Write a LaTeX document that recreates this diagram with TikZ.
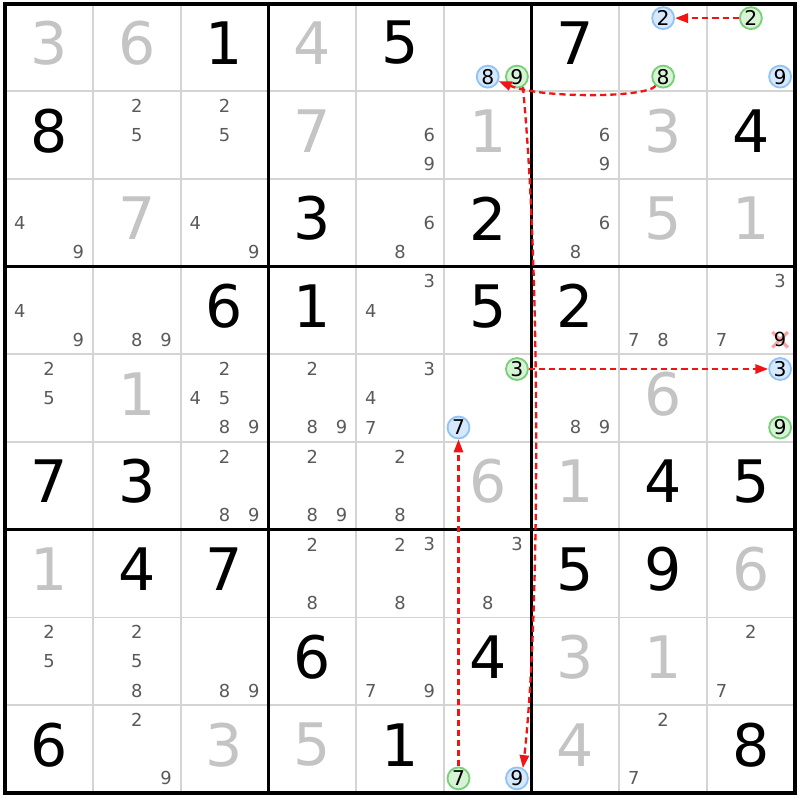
\documentclass[tikz,border=0pt]{standalone}
\usepackage{fontspec}
\setmainfont{DejaVu Sans}
\usetikzlibrary{arrows.meta}
\definecolor{gegeben}{RGB}{196,196,196}
\definecolor{kandgrau}{RGB}{90,90,90}
\definecolor{gitter}{RGB}{212,212,212}
\definecolor{blaufill}{RGB}{214,233,252}
\definecolor{blaurand}{RGB}{145,196,245}
\definecolor{gruenfill}{RGB}{214,243,214}
\definecolor{gruenrand}{RGB}{120,208,120}
\definecolor{pfeilrot}{RGB}{240,20,20}
\tikzset{
  given/.style = {inner sep=0pt, font=\fontsize{19}{19}\selectfont, text=gegeben},
  solved/.style = {inner sep=0pt, font=\fontsize{19}{19}\selectfont, text=black},
  cand/.style = {inner sep=0pt, font=\fontsize{5.8}{6}\selectfont, text=kandgrau},
  candblue/.style = {circle, draw=blaurand, fill=blaufill, line width=0.6pt, minimum size=0.25cm, inner sep=0pt, font=\fontsize{6.6}{7}\selectfont},
  candgreen/.style = {circle, draw=gruenrand, fill=gruenfill, line width=0.6pt, minimum size=0.25cm, inner sep=0pt, font=\fontsize{6.6}{7}\selectfont},
  thinline/.style = {gitter, line width=0.6pt},
  boxline/.style = {black, line width=1pt},
  arrow/.style = {pfeilrot, line width=0.75pt, dash pattern=on 2pt off 1.3pt, -{Triangle[length=4.2pt, width=3pt]}}
}

\begin{document}
\begin{tikzpicture}
  \useasboundingbox (-0.06,0.04) rectangle (9.06,-9.08);
  \fill[white] (-0.06,0.04) rectangle (9.06,-9.08);

  % Gitter
  \foreach \i in {1,2,4,5,7,8} {
    \draw[thinline] (\i,0) -- (\i,-9);
    \draw[thinline] (0,-\i) -- (9,-\i);
  }
  \foreach \i in {3,6} {
    \draw[boxline] (\i,0) -- (\i,-9);
    \draw[boxline] (0,-\i) -- (9,-\i);
  }
  \draw[black, line width=1.3pt] (0,0) rectangle (9,-9);

  % Vorgaben
  \foreach \r/\c/\d in {0/0/3, 0/1/6, 0/3/4, 1/3/7, 1/5/1, 1/7/3, 2/1/7, 2/7/5, 2/8/1,
                        4/1/1, 4/7/6, 5/5/6, 5/6/1, 6/0/1, 6/8/6, 7/6/3, 7/7/1,
                        8/2/3, 8/3/5, 8/6/4}
    \node[given] at (\c+0.5,-\r-0.45) {\d};

  % Geloeste Zellen
  \foreach \r/\c/\d in {0/2/1, 0/4/5, 0/6/7, 1/0/8, 1/8/4, 2/3/3, 2/5/2, 3/2/6, 3/3/1,
                        3/5/5, 3/6/2, 5/0/7, 5/1/3, 5/7/4, 5/8/5, 6/1/4, 6/2/7, 6/6/5,
                        6/7/9, 7/3/6, 7/5/4, 8/0/6, 8/4/1, 8/8/8}
    \node[solved] at (\c+0.5,-\r-0.45) {\d};

  % Kandidaten
  \foreach \r/\c/\ds in {1/1/{2,5}, 1/2/{2,5}, 1/4/{6,9}, 1/6/{6,9},
                         2/0/{4,9}, 2/2/{4,9}, 2/4/{6,8}, 2/6/{6,8},
                         3/0/{4,9}, 3/1/{8,9}, 3/4/{3,4}, 3/7/{7,8}, 3/8/{3,7},
                         4/0/{2,5}, 4/2/{2,4,5,8,9}, 4/3/{2,8,9}, 4/4/{3,4,7}, 4/6/{8,9},
                         5/2/{2,8,9}, 5/3/{2,8,9}, 5/4/{2,8},
                         6/3/{2,8}, 6/4/{2,3,8}, 6/5/{3,8},
                         7/0/{2,5}, 7/1/{2,5,8}, 7/2/{8,9}, 7/4/{7,9}, 7/8/{2,7},
                         8/1/{2,9}, 8/7/{2,7}} {
    \foreach \d in \ds {
      \pgfmathtruncatemacro\spalte{mod(\d-1,3)}
      \pgfmathtruncatemacro\zeile{int((\d-1)/3)}
      \node[cand] at (\c+\spalte/3+1/6,-\r-\zeile/3-1/6) {\d};
    }
  }

  % gestrichener Kandidat
  \draw[pfeilrot!70!white, opacity=0.55, line width=1pt] (8.745,-3.745) -- (8.921,-3.921)
        (8.745,-3.921) -- (8.921,-3.745);
  \node[inner sep=0pt, font=\fontsize{6.3}{7}\selectfont] (x9) at (8+5/6,-3-5/6) {9};

  % markierte Kandidaten
  \node[candblue]  (b8) at (5.5,-5/6) {8};
  \node[candgreen] (g9) at (5+5/6,-5/6) {9};
  \node[candblue]  (b2) at (7.5,-1/6) {2};
  \node[candgreen] (g8) at (7.5,-5/6) {8};
  \node[candgreen] (g2) at (8.5,-1/6) {2};
  \node[candblue]  (r9) at (8+5/6,-5/6) {9};
  \node[candgreen] (g3) at (5+5/6,-4-1/6) {3};
  \node[candblue]  (b7) at (5+1/6,-4-5/6) {7};
  \node[candblue]  (b3) at (8+5/6,-4-1/6) {3};
  \node[candgreen] (s9) at (8+5/6,-4-5/6) {9};
  \node[candgreen] (g7) at (5+1/6,-8-5/6) {7};
  \node[candblue]  (b9) at (5+5/6,-8-5/6) {9};

  % Verbindungen
  \draw[arrow] (g2) -- (b2);
  \draw[arrow] (g8) .. controls (7.3,-1.08) and (6.1,-1.08) .. (b8);
  \draw[arrow] (g9.-60) .. controls (6.1,-3) and (6.1,-7) .. (b9.60);
  \draw[arrow] (g3) -- (b3);
  \draw[arrow] (g7) -- (b7);
\end{tikzpicture}
\end{document}
